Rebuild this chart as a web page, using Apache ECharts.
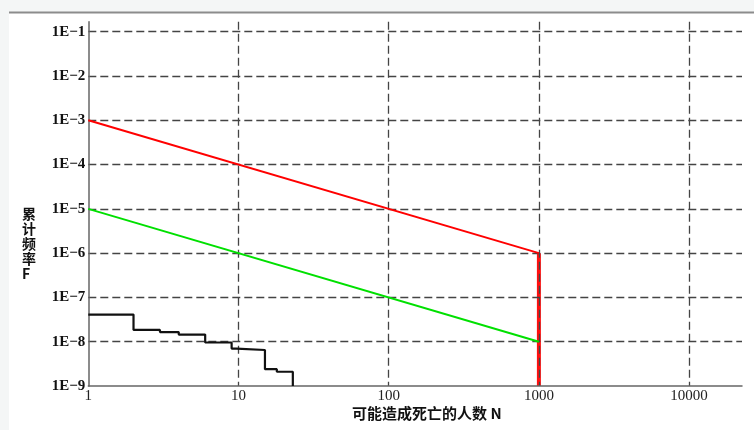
<!DOCTYPE html>
<html>
<head>
<meta charset="utf-8">
<script src="https://cdn.jsdelivr.net/npm/echarts@6/dist/echarts.min.js"></script>
<style>
html,body{margin:0;padding:0;background:#f4f6f6;}
#chart{width:754px;height:430px;}
</style>
</head>
<body>
<div id="chart"></div>
<script>
// Upper (red) criterion line
const upperN = [1, 1000];
const upperF = [1e-3, 1e-6];
// Red vertical limit at N = 1000
const limitN = [1000, 1000];
const limitF = [1e-6, 1e-9];
// Lower (green) criterion line
const lowerN = [1, 1000];
const lowerF = [1e-5, 1e-8];
// Black F-N step curve
const curveN = [1, 2, 3, 4, 6, 9, 9.7, 15, 18, 23];
const curveF = [4.1e-8, 1.85e-8, 1.65e-8, 1.45e-8, 9.6e-9, 7.0e-9, 6.5e-9, 2.4e-9, 2.1e-9, 1e-9];

const xTitle = '可能造成死亡的人数 N';
const yTitle = '累\n计\n频\n率\nF';

const pairs = (xs, ys) => xs.map((x, i) => [x, ys[i]]);

const chart = echarts.init(document.getElementById('chart'));
const gridLine = { show: true, showMinLine: false, showMaxLine: false,
  lineStyle: { color: '#444', width: 1.3, type: [8, 4] } };

chart.setOption({
  backgroundColor: 'transparent',
  animation: false,
  graphic: [
    { type: 'rect', left: 9, top: 13, shape: { width: 745, height: 417 }, style: { fill: '#ffffff' }, z: -10 },
    { type: 'line', shape: { x1: 9, y1: 12.5, x2: 754, y2: 12.5 }, style: { stroke: '#8c8c8c', lineWidth: 2 }, z: -9 },
    { type: 'text', left: 352, top: 406, style: { text: xTitle, font: 'bold 15px "Noto Sans CJK SC"', fill: '#111' } },
    { type: 'text', left: 22, top: 206, style: { text: yTitle, font: 'bold 14px "Noto Sans CJK SC"', fill: '#111', lineHeight: 15, align: 'center' } }
  ],
  grid: { left: 88.3, right: 12, top: 21.7, bottom: 44, containLabel: false },
  xAxis: {
    type: 'log', logBase: 10, min: 1, max: 22500,
    axisLine: { show: true, lineStyle: { color: '#666', width: 1.5 } },
    axisTick: { show: false },
    splitLine: gridLine,
    axisLabel: { showMaxLabel: false, margin: 3, color: '#222', fontFamily: 'Liberation Serif', fontSize: 15,
      formatter: v => String(Math.round(v)) }
  },
  yAxis: {
    type: 'log', logBase: 10, min: 1e-9, max: 0.168,
    axisLine: { show: true, lineStyle: { color: '#666', width: 1.5 } },
    axisTick: { show: false },
    splitLine: gridLine,
    axisLabel: { showMaxLabel: false, margin: 3, color: '#111', fontFamily: 'Liberation Serif', fontSize: 15, fontWeight: 'bold',
      formatter: v => '1E\u2212' + (-Math.round(Math.log10(v))) }
  },
  series: [
    { type: 'line', data: pairs(upperN, upperF), symbol: 'none', lineStyle: { color: '#ff0000', width: 2 } },
    { type: 'line', data: pairs(lowerN, lowerF), symbol: 'none', lineStyle: { color: '#00e000', width: 2 } },
    { type: 'line', data: pairs(limitN, limitF), symbol: 'none', z: -1, lineStyle: { color: '#ff1010', width: 4 } },
    { type: 'line', data: pairs(curveN, curveF), step: 'end', symbol: 'none', lineStyle: { color: '#111', width: 2.2 } }
  ]
});
</script>
</body>
</html>
